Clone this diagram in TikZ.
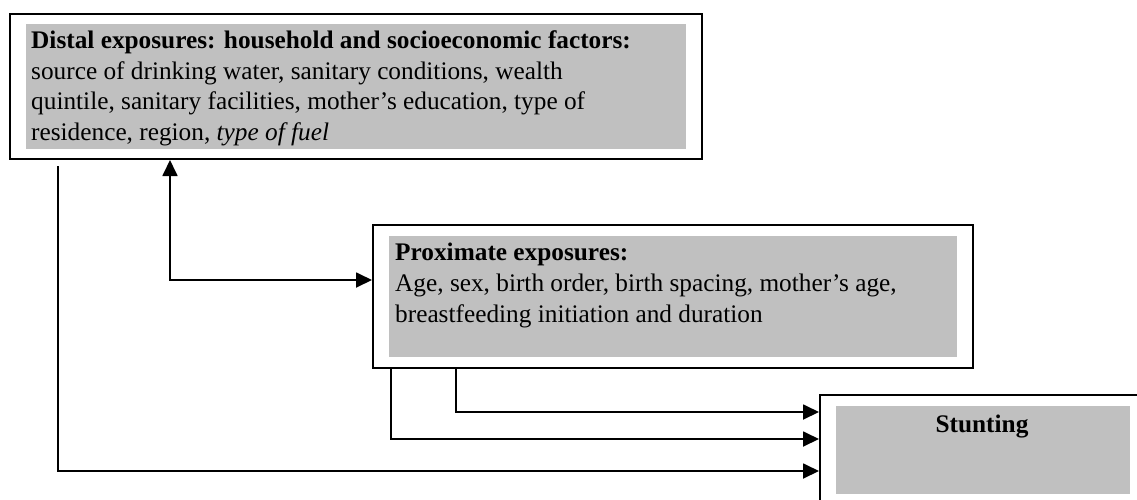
\documentclass[tikz,border=0pt]{standalone}
\usepackage{fontspec}
\setmainfont{Liberation Serif}
\usetikzlibrary{arrows.meta,calc}
\definecolor{boxgray}{RGB}{192,192,192}
\begin{document}
\begin{tikzpicture}[x=1pt,y=-1pt,
  outerbox/.style={draw=black,line width=2pt,rectangle,inner sep=0pt,fill=white},
  graybox/.style={fill=boxgray,rectangle,inner sep=0pt},
  txt/.style={inner sep=0pt,align=left,font=\fontsize{25.3}{30.4}\selectfont},
  txtb/.style={inner sep=0pt,align=left,font=\fontsize{25.3}{31}\selectfont},
  conn/.style={line width=1.8pt,-{Triangle[length=16pt,width=15pt]}},
  conn2/.style={line width=1.8pt,{Triangle[length=16pt,width=15pt]}-{Triangle[length=16pt,width=15pt]}}]
\clip (0,0) rectangle (1137,499);
\fill[white] (0,0) rectangle (1137,499);
% boxes
\node[outerbox,minimum width=691.5pt,minimum height=145pt] (distal) at (355.75,86.5) {};
\node[graybox,minimum width=660pt,minimum height=125pt] (distalg) at (356,86.5) {};
\node[outerbox,minimum width=600pt,minimum height=143pt] (prox) at (673,296.5) {};
\node[graybox,minimum width=568pt,minimum height=121pt] (proxg) at (673,296.5) {};
\node[outerbox,minimum width=325pt,minimum height=115pt] (stunt) at (982.5,452.5) {};
\node[graybox,minimum width=294pt,minimum height=88pt] (stuntg) at (983,450) {};
% texts
\node[txt,anchor=base west] (distalt) at (31,140) {\textbf{Distal exposures: household and socioeconomic factors:}\\
source of drinking water, sanitary conditions, wealth\\
quintile, sanitary facilities, mother’s education, type of\\
residence, region, \textit{type of fuel}};
\node[txtb,anchor=base west] (proxt) at (395,322) {\textbf{Proximate exposures:}\\
Age, sex, birth order, birth spacing, mother’s age,\\
breastfeeding initiation and duration};
\node[txt,anchor=base] (stuntt) at (982,432) {\textbf{Stunting}};
% connectors
\coordinate (cx0) at (58,0);
\coordinate (cx1) at (170,0);
\coordinate (cx2) at (391,0);
\coordinate (cx3) at (456,0);
\draw[conn2] (distal.south -| cx1) |- ($(prox.north west)+(0,56)$);
\draw[conn] (prox.south -| cx3) |- ($(stunt.north west)+(0,18)$);
\draw[conn] (prox.south -| cx2) |- ($(stunt.north west)+(0,45)$);
\draw[conn] ($(distal.south -| cx0)+(0,6)$) |- ($(stunt.north west)+(0,77)$);
\end{tikzpicture}
\end{document}
